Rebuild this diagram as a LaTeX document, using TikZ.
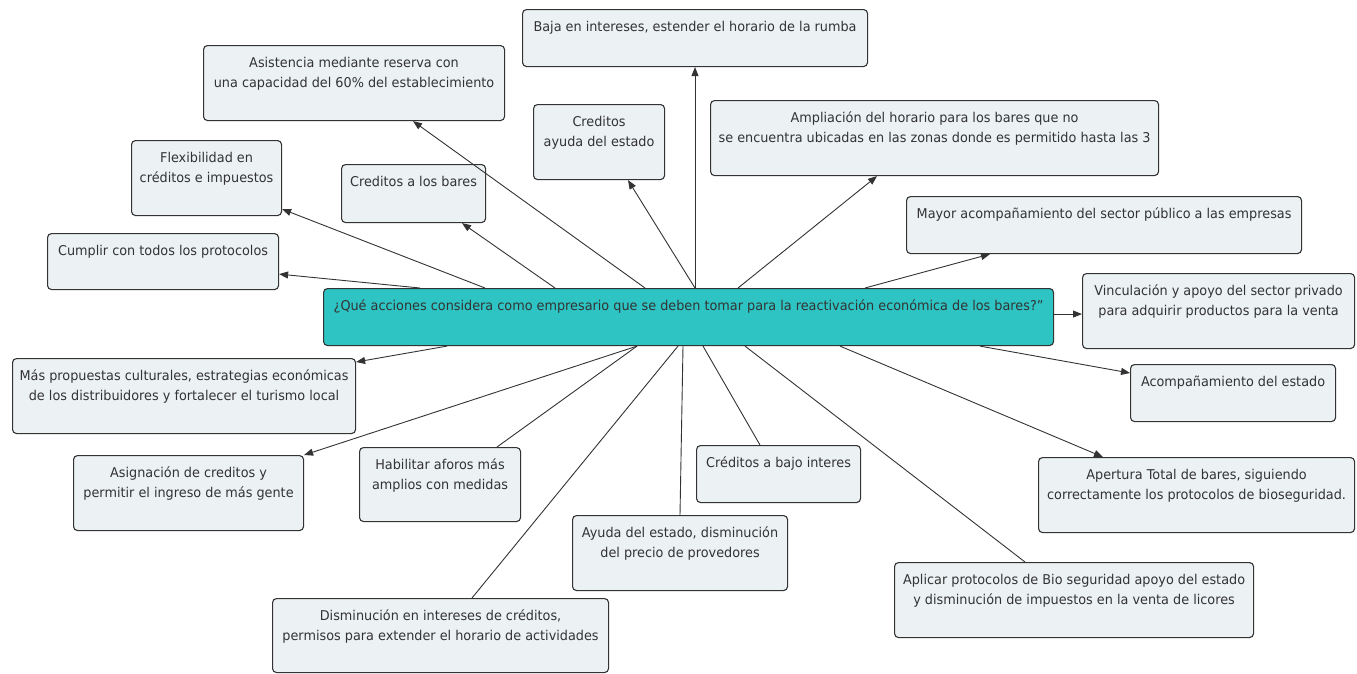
\documentclass[tikz,border=0pt]{standalone}
\usepackage{fontspec}
\setmainfont{DejaVu Sans}[FakeStretch=0.95]
\usetikzlibrary{arrows.meta}

\definecolor{boxfill}{RGB}{236,241,244}
\definecolor{qfill}{RGB}{46,196,196}
\definecolor{ink}{RGB}{51,51,51}

\tikzset{
  idea/.style={draw=ink, fill=boxfill, rounded corners=4pt, line width=1.1pt,
    inner sep=0pt, anchor=north west, text=ink, font=\fontsize{13.5}{19.5}\selectfont},
  pregunta/.style={idea, fill=qfill},
  enlace/.style={draw=ink, line width=0.9pt},
  flecha/.style={enlace, -{Triangle[length=9pt,width=7pt]}}
}
\newcommand{\caja}[3]{\parbox[c][#2][t]{#1}{\centering\rule{0pt}{22pt}#3}}

\begin{document}
\begin{tikzpicture}[x=1pt,y=-1pt]
  \useasboundingbox (0,0) rectangle (1357,673);

  \node[pregunta] (q) at (323,288) {\caja{730pt}{57pt}{¿Qué acciones considera como empresario que se deben tomar para la reactivación económica de los bares?”}};

  \node[idea] (asis) at (203,45) {\caja{301pt}{75pt}{Asistencia mediante reserva con\\una capacidad del 60\% del establecimiento}};
  \node[idea] (flex) at (131,140) {\caja{150pt}{75pt}{Flexibilidad en\\créditos e impuestos}};
  \node[idea] (cbar) at (341,164) {\caja{144pt}{58pt}{Creditos a los bares}};
  \node[idea] (cump) at (47,233) {\caja{231pt}{56pt}{Cumplir con todos los protocolos}};
  \node[idea] (baja) at (522,9) {\caja{345pt}{57pt}{Baja en intereses, estender el horario de la rumba}};
  \node[idea] (cayu) at (533,104) {\caja{131pt}{75pt}{Creditos\\ayuda del estado}};
  \node[idea] (ampl) at (710,100) {\caja{448pt}{75pt}{Ampliación del horario para los bares que no\\se encuentra ubicadas en las zonas donde es permitido hasta las 3}};
  \node[idea] (mayor) at (906,196) {\caja{395pt}{57pt}{Mayor acompañamiento del sector público a las empresas}};
  \node[idea] (vinc) at (1082,273) {\caja{272pt}{75pt}{Vinculación y apoyo del sector privado\\para adquirir productos para la venta}};
  \node[idea] (acomp) at (1130,364) {\caja{205pt}{57pt}{Acompañamiento del estado}};
  \node[idea] (aper) at (1038,457) {\caja{316pt}{75pt}{Apertura Total de bares, siguiendo\\correctamente los protocolos de bioseguridad.}};
  \node[idea] (apli) at (894,562) {\caja{359pt}{75pt}{Aplicar protocolos de Bio seguridad apoyo del estado\\y disminución de impuestos en la venta de licores}};
  \node[idea] (cbaj) at (696,445) {\caja{164pt}{57pt}{Créditos a bajo interes}};
  \node[idea] (ayud) at (572,515) {\caja{215pt}{75pt}{Ayuda del estado, disminución\\del precio de provedores}};
  \node[idea] (dism) at (272,598) {\caja{336pt}{74pt}{Disminución en intereses de créditos,\\permisos para extender el horario de actividades}};
  \node[idea] (habi) at (359,447) {\caja{161pt}{74pt}{Habilitar aforos más\\amplios con medidas}};
  \node[idea] (asig) at (73,455) {\caja{230pt}{75pt}{Asignación de creditos y\\permitir el ingreso de más gente}};
  \node[idea] (masp) at (12,358) {\caja{343pt}{75pt}{Más propuestas culturales, estrategias económicas\\de los distribuidores y fortalecer el turismo local}};

  \draw[flecha] ([xshift=322pt]q.north west) -- ([xshift=210pt]asis.south west);
  \draw[flecha] ([xshift=232pt]q.north west) -- ([xshift=121pt]cbar.south west);
  \draw[flecha] ([xshift=162pt]q.north west) -- ([yshift=7pt]flex.south east);
  \draw[flecha] ([xshift=97pt]q.north west) -- ([yshift=16pt]cump.south east);
  \draw[flecha] ([xshift=372pt]q.north west) -- ([xshift=173pt]baja.south west);
  \draw[flecha] ([xshift=372pt]q.north west) -- ([xshift=95pt]cayu.south west);
  \draw[flecha] ([xshift=415pt]q.north west) -- ([xshift=167pt]ampl.south west);
  \draw[flecha] ([xshift=542pt]q.north west) -- ([xshift=84pt]mayor.south west);
  \draw[flecha] ([yshift=3pt]q.east) -- ([yshift=3pt]q.east -| vinc.west);
  \draw[flecha] ([xshift=657pt]q.south west) -- ([yshift=-9pt]acomp.north west);
  \draw[flecha] ([xshift=517pt]q.south west) -- ([xshift=65pt]aper.north west);
  \draw[enlace] ([xshift=422pt]q.south west) -- ([xshift=131pt]apli.north west);
  \draw[enlace] ([xshift=380pt]q.south west) -- ([xshift=64pt]cbaj.north west);
  \draw[enlace] ([xshift=360pt]q.south west) -- ([xshift=108pt]ayud.north west);
  \draw[enlace] ([xshift=355pt]q.south west) -- ([xshift=200pt]dism.north west);
  \draw[enlace] ([xshift=314pt]q.south west) -- ([xshift=138pt]habi.north west);
  \draw[flecha] ([xshift=314pt]q.south west) -- (asig.north east);
  \draw[flecha] ([xshift=124pt]q.south west) -- ([yshift=-4pt]masp.north east);
\end{tikzpicture}
\end{document}
